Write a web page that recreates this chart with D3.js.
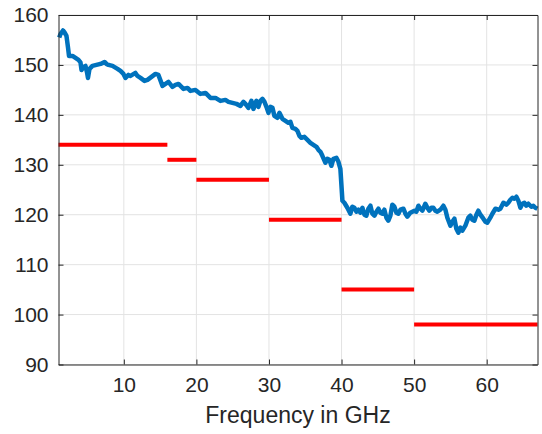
<!DOCTYPE html>
<html>
<head>
<meta charset="utf-8">
<script src="https://cdn.jsdelivr.net/npm/d3@7"></script>
<style>
  body { margin: 0; background: #fff; }
  svg { display: block; }
</style>
</head>
<body>
<div id="chart"></div>
<script>
// measured trace (GHz, level)
var freqGHz = [1.1, 1.28, 1.62, 1.83, 2.1, 2.31, 2.45, 2.93, 3.34, 3.75, 4.03, 4.17, 4.44, 4.72, 4.93, 5.06, 5.27, 5.68,
    6.23, 6.79, 7.34, 7.61, 7.89, 8.44, 9.13, 9.54, 9.95, 10.23, 10.64, 10.92, 11.6, 11.88, 12.3, 12.85, 13.26, 13.81,
    14.36, 14.77, 15.33, 15.74, 16.15, 16.7, 17.12, 17.53, 18.22, 18.77, 19.18, 19.87, 20.56, 21.25, 21.94, 22.63,
    23.31, 24.0, 24.42, 24.97, 25.52, 26.07, 26.48, 26.76, 27.17, 27.58, 27.86, 28.27, 28.55, 28.82, 29.1, 29.38,
    29.65, 29.93, 30.2, 30.48, 30.75, 31.17, 31.44, 31.85, 32.27, 32.68, 32.96, 33.23, 33.64, 33.92, 34.2, 34.47,
    34.88, 35.3, 35.71, 36.12, 36.54, 36.81, 37.09, 37.36, 37.78, 38.05, 38.33, 38.6, 38.88, 39.29, 39.57, 39.84,
    39.98, 40.12, 40.39, 40.8, 41.22, 41.49, 41.77, 42.05, 42.32, 42.6, 42.87, 43.15, 43.42, 43.7, 43.98, 44.25,
    44.53, 44.8, 45.08, 45.35, 45.63, 45.9, 46.18, 46.45, 46.73, 47.0, 47.28, 47.56, 47.83, 48.11, 48.52, 48.8,
    49.07, 49.48, 50.04, 50.31, 50.59, 50.86, 51.14, 51.55, 51.83, 52.1, 52.38, 52.65, 52.93, 53.2, 53.62, 54.03,
    54.31, 54.58, 55.0, 55.27, 55.55, 55.82, 56.1, 56.37, 56.65, 57.06, 57.47, 57.75, 58.02, 58.3, 58.58, 58.85,
    59.13, 59.54, 59.82, 60.09, 60.5, 60.78, 61.2, 61.61, 61.88, 62.3, 62.71, 62.98, 63.26, 63.54, 63.81, 64.09,
    64.36, 64.64, 64.91, 65.19, 65.46, 65.74, 66.15, 66.43, 66.7, 66.98];
var level = [155.5, 156.2, 156.9, 156.5, 155.8, 153.5, 151.8, 151.8, 151.4, 151.0, 150.5, 149.0, 149.6, 149.8, 148.5, 147.4, 149.2, 149.8,
    150.0, 150.2, 150.6, 150.2, 150.0, 149.8, 149.2, 148.8, 148.2, 147.4, 148.0, 147.8, 148.4, 147.8, 147.4, 146.8, 147.0, 147.6,
    148.2, 148.0, 145.8, 146.2, 146.6, 145.6, 146.0, 146.2, 145.2, 145.4, 144.8, 145.0, 144.2, 144.4, 143.4, 143.4,
    142.8, 143.0, 142.6, 142.4, 142.2, 141.8, 142.6, 142.2, 141.4, 142.8, 141.2, 142.8, 141.6, 142.8, 143.2, 142.6,
    141.6, 140.4, 141.6, 141.4, 139.8, 139.4, 140.4, 139.2, 138.8, 138.4, 138.6, 137.4, 137.2, 136.8, 135.8, 135.4,
    135.6, 135.0, 134.4, 134.0, 133.6, 133.0, 132.6, 131.8, 130.4, 131.2, 131.0, 129.8, 131.2, 131.4, 130.6, 129.2,
    126.0, 122.8, 122.4, 121.4, 120.2, 121.6, 121.4, 120.6, 121.0, 120.4, 121.4, 120.0, 119.8, 121.2, 121.8, 120.2,
    119.8, 120.6, 121.2, 120.4, 120.2, 121.0, 119.4, 118.8, 119.8, 122.0, 121.6, 120.4, 120.2, 121.0, 121.2, 120.2,
    119.6, 120.4, 120.8, 120.6, 121.8, 121.2, 120.8, 122.2, 121.4, 120.8, 121.4, 121.4, 120.8, 120.6, 121.0, 121.8,
    121.0, 119.4, 117.8, 118.6, 119.2, 117.2, 116.4, 117.4, 116.8, 117.8, 119.4, 119.8, 119.0, 118.8, 120.0, 120.8,
    120.0, 119.2, 118.6, 118.4, 119.4, 120.2, 121.2, 121.0, 121.2, 122.4, 122.0, 122.4, 123.0, 123.4, 123.2, 123.6,
    122.8, 121.4, 122.2, 122.4, 121.8, 122.2, 121.6, 121.8, 121.4, 121.2];

// limit line segments
var limitStart = [1, 16, 20, 30, 40, 50];
var limitEnd = [16, 20, 30, 40, 50, 67];
var limitLevel = [134, 131, 127, 119, 105, 98];

var xTicks = [10, 20, 30, 40, 50, 60];
var yTicks = [90, 100, 110, 120, 130, 140, 150, 160];

var width = 542, height = 434;
var margin = {top: 15, right: 4.5, bottom: 69.5, left: 58.5};

var svg = d3.select("#chart").append("svg")
    .attr("width", width)
    .attr("height", height)
    .style("font-family", "'Liberation Sans', Arial, sans-serif");

var x = d3.scaleLinear().domain([1, 67]).range([margin.left, width - margin.right]);
var y = d3.scaleLinear().domain([90, 160]).range([height - margin.bottom, margin.top]);

// grid
svg.append("g").selectAll("line.gx")
    .data(xTicks).enter().append("line")
    .attr("x1", function (d) { return x(d); })
    .attr("x2", function (d) { return x(d); })
    .attr("y1", y(90)).attr("y2", y(160))
    .attr("stroke", "#e3e3e3").attr("stroke-width", 1);
svg.append("g").selectAll("line.gy")
    .data(yTicks).enter().append("line")
    .attr("x1", x(1)).attr("x2", x(67))
    .attr("y1", function (d) { return y(d); })
    .attr("y2", function (d) { return y(d); })
    .attr("stroke", "#e3e3e3").attr("stroke-width", 1);

// limit segments
svg.append("g").selectAll("line")
    .data(limitLevel).enter().append("line")
    .attr("x1", function (d, i) { return x(limitStart[i]); })
    .attr("x2", function (d, i) { return x(limitEnd[i]); })
    .attr("y1", function (d) { return y(d); })
    .attr("y2", function (d) { return y(d); })
    .attr("stroke", "#ff0000").attr("stroke-width", 4);

// measured trace
var line = d3.line()
    .x(function (d, i) { return x(freqGHz[i]); })
    .y(function (d) { return y(d); });

svg.append("path")
    .datum(level)
    .attr("d", line)
    .attr("fill", "none")
    .attr("stroke", "#0072bd")
    .attr("stroke-width", 4.5)
    .attr("stroke-linejoin", "round");

// axes, ticks inside, box on
var axisColor = "#262626";
var xb = d3.axisBottom(x).tickValues(xTicks).tickSizeInner(-5).tickSizeOuter(0).tickPadding(13);
var xt = d3.axisTop(x).tickValues(xTicks).tickSizeInner(-5).tickSizeOuter(0).tickFormat("");
var yl = d3.axisLeft(y).tickValues(yTicks).tickSizeInner(-5).tickSizeOuter(0).tickPadding(10);
var yr = d3.axisRight(y).tickValues(yTicks).tickSizeInner(-5).tickSizeOuter(0).tickFormat("");

function style(g) {
    g.selectAll("path, line").attr("stroke", axisColor);
    g.selectAll("text").attr("fill", axisColor).style("font-size", "21px")
        .style("font-family", "'Liberation Sans', Arial, sans-serif");
}

svg.append("g").attr("transform", "translate(0," + y(90) + ")").call(xb).call(style);
svg.append("g").attr("transform", "translate(0," + y(160) + ")").call(xt).call(style);
svg.append("g").attr("transform", "translate(" + x(1) + ",0)").call(yl).call(style);
svg.append("g").attr("transform", "translate(" + x(67) + ",0)").call(yr).call(style);

svg.append("text")
    .attr("x", (x(1) + x(67)) / 2)
    .attr("y", 423)
    .attr("text-anchor", "middle")
    .attr("fill", axisColor)
    .style("font-size", "23px")
    .text("Frequency in GHz");
</script>
</body>
</html>
